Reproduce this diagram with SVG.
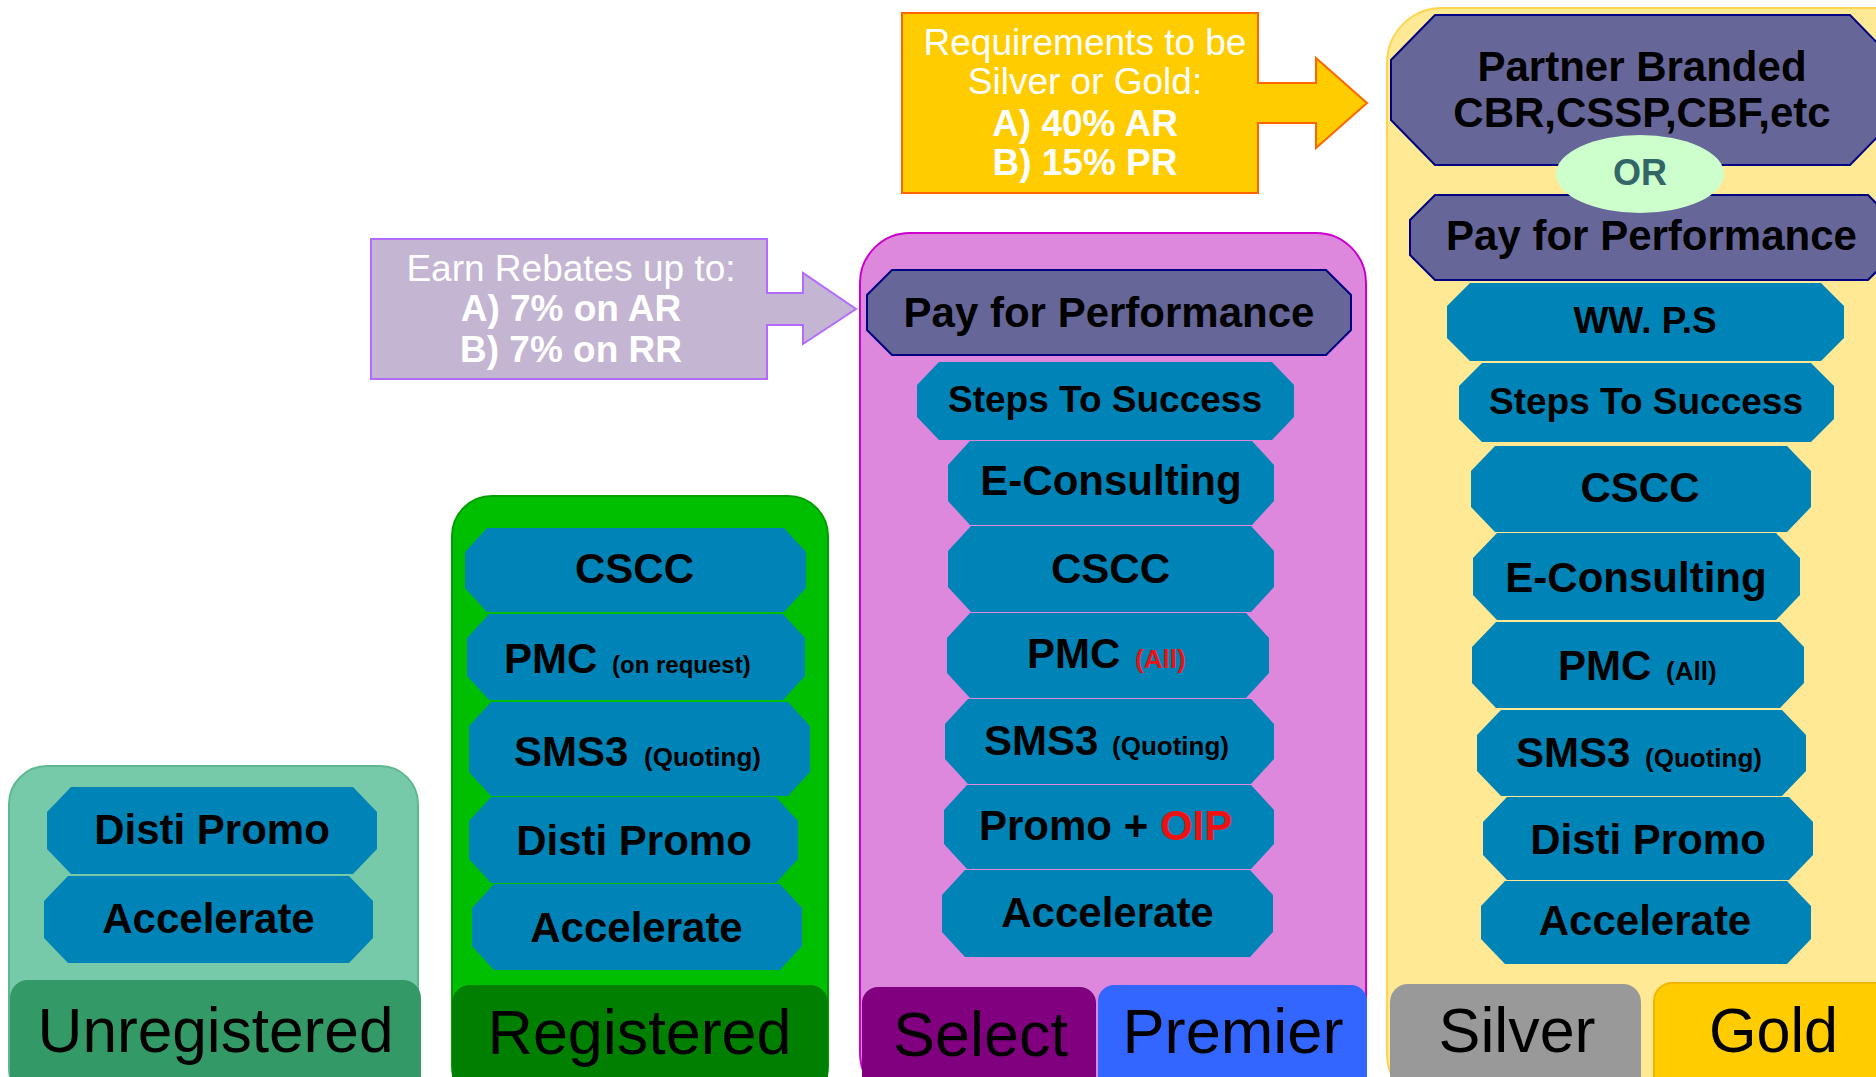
<svg xmlns="http://www.w3.org/2000/svg" width="1876" height="1077" viewBox="0 0 1876 1077">
<style>
.item{fill:#0083B7}
.p4p{fill:#666699;stroke:#000080;stroke-width:2}
.t{font-family:"Liberation Sans",Arial,sans-serif;font-weight:bold;font-size:42px;text-anchor:middle;fill:#000}
.s{text-anchor:start}
.sm{font-size:26px}
.xs{font-size:24px}
.m{font-size:37px}
.big{font-family:"Liberation Sans",Arial,sans-serif;font-weight:normal;font-size:63px;text-anchor:middle;fill:#000}
.w{font-family:"Liberation Sans",Arial,sans-serif;font-size:37px;text-anchor:middle;fill:#FFFFFF}
.b{font-weight:bold}
.red{fill:#EE1111}
.or{font-size:36px;fill:#336666}
</style>
<rect width="1876" height="1077" fill="#FFFFFF"/>

<!-- Panels -->
<g id="panel-unregistered">
<rect x="9" y="766" width="409" height="340" rx="38" fill="#77CAA9" stroke="#5DB88F" stroke-width="2"/>
<rect x="10" y="980" width="411" height="120" rx="18" fill="#339966"/>
<text class="big" x="215.5" y="1052" textLength="356" lengthAdjust="spacingAndGlyphs">Unregistered</text>
</g>
<g id="panel-registered">
<rect x="452" y="496" width="376" height="610" rx="40" fill="#00BF00" stroke="#00A000" stroke-width="2"/>
<rect x="452" y="985" width="376" height="120" rx="18" fill="#007F00"/>
<text class="big" x="639.5" y="1054" textLength="304" lengthAdjust="spacingAndGlyphs">Registered</text>
</g>
<g id="panel-select-premier">
<rect x="860" y="233" width="506" height="870" rx="50" fill="#DD88DD" stroke="#CC00CC" stroke-width="2"/>
<rect x="862" y="987" width="234" height="120" rx="16" fill="#800080"/>
<text class="big" x="980.5" y="1056" textLength="175" lengthAdjust="spacingAndGlyphs">Select</text>
<rect x="1098" y="985" width="269" height="120" rx="16" fill="#3366FF"/>
<text class="big" x="1233" y="1053" textLength="221" lengthAdjust="spacingAndGlyphs">Premier</text>
</g>
<g id="panel-silver-gold">
<rect x="1387" y="8" width="560" height="1100" rx="55" fill="#FFE994" stroke="#FFD54F" stroke-width="2"/>
<rect x="1390" y="984" width="251" height="120" rx="18" fill="#999999"/>
<text class="big" x="1517" y="1052" textLength="157" lengthAdjust="spacingAndGlyphs">Silver</text>
<rect x="1654" y="983" width="260" height="120" rx="18" fill="#FFCC00" stroke="#F5B400" stroke-width="2"/>
<text class="big" x="1773.5" y="1052" textLength="129" lengthAdjust="spacingAndGlyphs">Gold</text>
</g>

<!-- Callouts -->
<g id="callout-rebates">
<path d="M371,239 H767 V293 H803 V273 L856,309 L803,344 V325 H767 V379 H371 Z" fill="#C4B5D2" stroke="#B36BFF" stroke-width="2"/>
<text class="w" x="571" y="281">Earn Rebates up to:</text>
<text class="w b" x="571" y="321">A) 7% on AR</text>
<text class="w b" x="571" y="362">B) 7% on RR</text>
</g>
<g id="callout-requirements">
<path d="M902,13 H1258 V83 H1316 V58 L1367,103 L1316,148 V123 H1258 V193 H902 Z" fill="#FFCC00" stroke="#FF6600" stroke-width="2"/>
<text class="w" x="1085" y="55">Requirements to be</text>
<text class="w" x="1085" y="94">Silver or Gold:</text>
<text class="w b" x="1085" y="136">A) 40% AR</text>
<text class="w b" x="1085" y="175">B) 15% PR</text>
</g>

<!-- Unregistered items -->
<g id="u-disti">
<polygon class="item" points="71,787 353,787 377,812 377,849 353,874 71,874 47,849 47,812"/>
<text class="t" x="212" y="844">Disti Promo</text>
</g>
<g id="u-accelerate">
<polygon class="item" points="68,876 349,876 373,901 373,938 349,963 68,963 44,938 44,901"/>
<text class="t" x="208.5" y="933">Accelerate</text>
</g>

<!-- Registered items -->
<g id="r-cscc">
<polygon class="item" points="487,528 784,528 806,552 806,588 784,612 487,612 465,588 465,552"/>
<text class="t" x="634.5" y="583">CSCC</text>
</g>
<g id="r-pmc">
<polygon class="item" points="489,614 783,614 805,638 805,676 783,700 489,700 467,676 467,638"/>
<text class="t s" x="504" y="673">PMC</text>
<text class="t s xs" x="612" y="673">(on request)</text>
</g>
<g id="r-sms3">
<polygon class="item" points="491,702 788,702 810,726 810,772 788,796 491,796 469,772 469,726"/>
<text class="t s" x="514" y="766">SMS3</text>
<text class="t s sm" x="644" y="766">(Quoting)</text>
</g>
<g id="r-disti">
<polygon class="item" points="491,797 776,797 798,821 798,859 776,883 491,883 469,859 469,821"/>
<text class="t" x="634" y="855">Disti Promo</text>
</g>
<g id="r-accelerate">
<polygon class="item" points="494,884 780,884 802,908 802,946 780,970 494,970 472,946 472,908"/>
<text class="t" x="636.5" y="942">Accelerate</text>
</g>

<!-- Select / Premier items -->
<g id="sp-p4p">
<polygon class="p4p" points="892,270 1326,270 1351,295 1351,330 1326,355 892,355 867,330 867,295"/>
<text class="t" x="1109" y="327">Pay for Performance</text>
</g>
<g id="sp-steps">
<polygon class="item" points="939,362 1272,362 1294,385 1294,417 1272,440 939,440 917,417 917,385"/>
<text class="t m" x="1105" y="412">Steps To Success</text>
</g>
<g id="sp-econsulting">
<polygon class="item" points="970,441 1252,441 1274,465 1274,501 1252,525 970,525 948,501 948,465"/>
<text class="t" x="1111" y="495">E-Consulting</text>
</g>
<g id="sp-cscc">
<polygon class="item" points="971,526 1251,526 1274,551 1274,587 1251,612 971,612 948,587 948,551"/>
<text class="t" x="1110.5" y="583">CSCC</text>
</g>
<g id="sp-pmc">
<polygon class="item" points="970,613 1246,613 1269,638 1269,673 1246,698 970,698 947,673 947,638"/>
<text class="t s" x="1027" y="668">PMC</text>
<text class="t s sm red" x="1135" y="668">(All)</text>
</g>
<g id="sp-sms3">
<polygon class="item" points="968,699 1251,699 1274,724 1274,759 1251,784 968,784 945,759 945,724"/>
<text class="t s" x="984" y="755">SMS3</text>
<text class="t s sm" x="1112" y="755">(Quoting)</text>
</g>
<g id="sp-promo">
<polygon class="item" points="967,785 1251,785 1274,810 1274,844 1251,869 967,869 944,844 944,810"/>
<text class="t s" x="979" y="840">Promo + <tspan class="red">OIP</tspan></text>
</g>
<g id="sp-accelerate">
<polygon class="item" points="965,870 1250,870 1273,895 1273,932 1250,957 965,957 942,932 942,895"/>
<text class="t" x="1107.5" y="927">Accelerate</text>
</g>

<!-- Silver / Gold items -->
<g id="sg-partner">
<polygon class="p4p" points="1435,15 1850,15 1894,60 1894,120 1850,165 1435,165 1391,120 1391,60"/>
<text class="t" x="1642" y="81">Partner Branded</text>
<text class="t" x="1642" y="127">CBR,CSSP,CBF,etc</text>
</g>
<g id="sg-p4p">
<polygon class="p4p" points="1435,195 1868,195 1893,220 1893,255 1868,280 1435,280 1410,255 1410,220"/>
<text class="t" x="1651.5" y="250">Pay for Performance</text>
</g>
<g id="sg-or">
<ellipse cx="1640" cy="174" rx="84" ry="39" fill="#CCFFCC"/>
<text class="t or" x="1640" y="185">OR</text>
</g>
<g id="sg-ww">
<polygon class="item" points="1470,283 1821,283 1844,306 1844,338 1821,361 1470,361 1447,338 1447,306"/>
<text class="t m" x="1645" y="333">WW. P.S</text>
</g>
<g id="sg-steps">
<polygon class="item" points="1482,363 1811,363 1834,386 1834,419 1811,442 1482,442 1459,419 1459,386"/>
<text class="t m" x="1646" y="414">Steps To Success</text>
</g>
<g id="sg-cscc">
<polygon class="item" points="1495,446 1787,446 1811,471 1811,507 1787,532 1495,532 1471,507 1471,471"/>
<text class="t" x="1640" y="502">CSCC</text>
</g>
<g id="sg-econsulting">
<polygon class="item" points="1497,533 1776,533 1800,558 1800,595 1776,620 1497,620 1473,595 1473,558"/>
<text class="t" x="1636" y="592">E-Consulting</text>
</g>
<g id="sg-pmc">
<polygon class="item" points="1496,622 1780,622 1804,647 1804,683 1780,708 1496,708 1472,683 1472,647"/>
<text class="t s" x="1558" y="680">PMC</text>
<text class="t s sm" x="1666" y="680">(All)</text>
</g>
<g id="sg-sms3">
<polygon class="item" points="1501,710 1782,710 1806,735 1806,771 1782,796 1501,796 1477,771 1477,735"/>
<text class="t s" x="1516" y="767">SMS3</text>
<text class="t s sm" x="1645" y="767">(Quoting)</text>
</g>
<g id="sg-disti">
<polygon class="item" points="1507,797 1789,797 1813,822 1813,855 1789,880 1507,880 1483,855 1483,822"/>
<text class="t" x="1648" y="854">Disti Promo</text>
</g>
<g id="sg-accelerate">
<polygon class="item" points="1505,881 1787,881 1811,906 1811,939 1787,964 1505,964 1481,939 1481,906"/>
<text class="t" x="1645" y="935">Accelerate</text>
</g>
<g id="connectors"></g>
</svg>
